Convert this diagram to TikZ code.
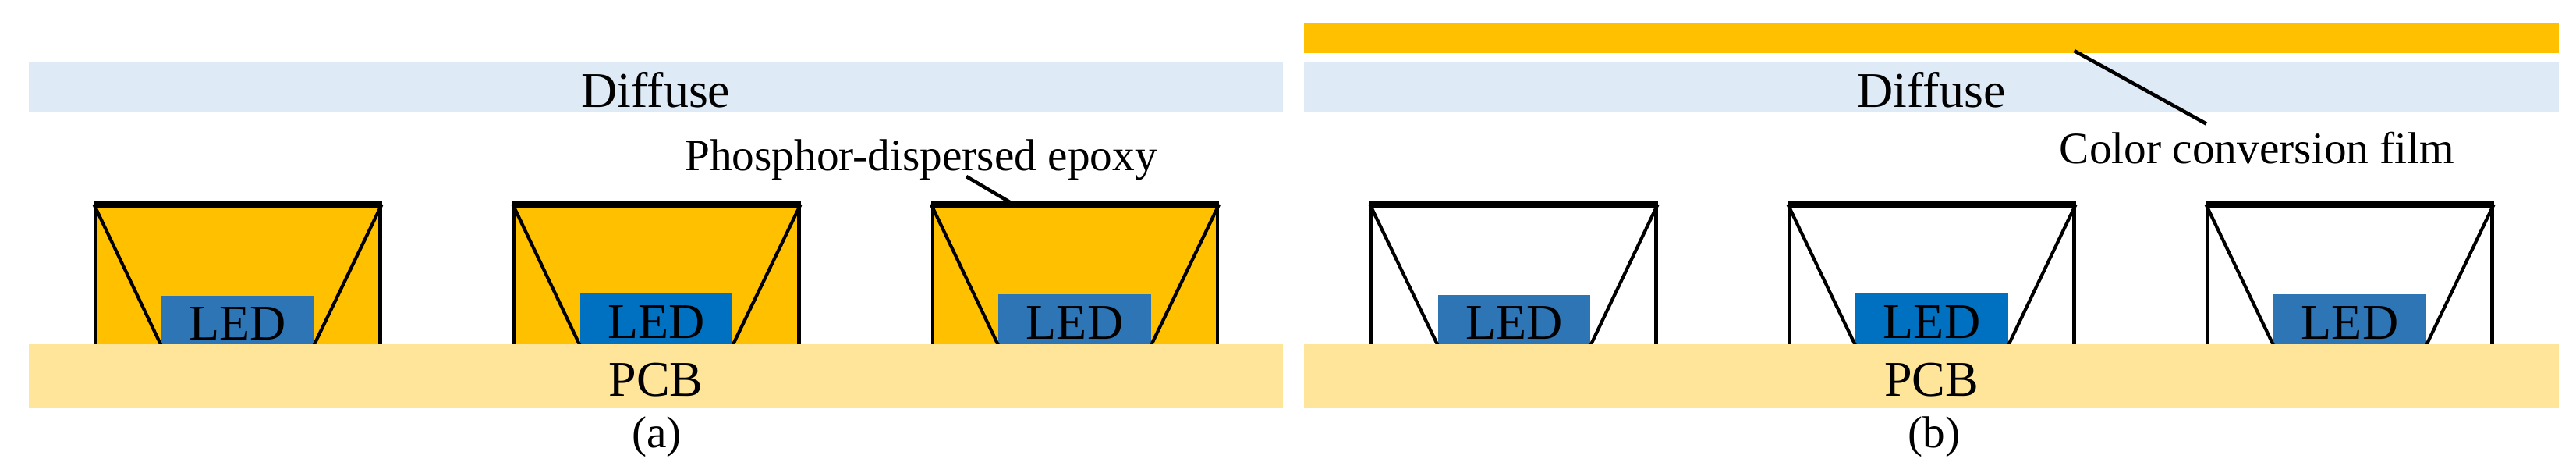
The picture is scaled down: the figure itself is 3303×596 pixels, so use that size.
\documentclass[tikz,border=0pt]{standalone}
\usepackage{fontspec}
\setmainfont{Liberation Serif}
\usepackage{tikz}
\definecolor{phosphor}{HTML}{FFC000}
\definecolor{diffuser}{HTML}{DEEBF7}
\definecolor{board}{HTML}{FEE599}
\definecolor{chip}{HTML}{2E75B6}
\definecolor{chipB}{HTML}{0070C0}
% Text sits a little below the middle of its box
\newcommand{\sunk}[1]{\raisebox{-0.25cm}[0pt][0pt]{#1}}
\tikzset{
    font=\fontsize{18.2}{20}\selectfont,
    %Define style for the layers
    layer/.style={
           rectangle,
           inner sep=0pt,
           minimum width=16.08cm},
    diffuse/.style={layer,fill=diffuser,minimum height=0.64cm},
    film/.style={layer,fill=phosphor,minimum height=0.375cm},
    pcb/.style={layer,fill=board,minimum height=0.82cm},
    % Define style for the cups, their lower edge is hidden by the pcb
    cup/.style={rectangle,draw=black,inner sep=0pt,line width=1.3pt,minimum width=3.645cm,minimum height=1.86cm},
    cupfull/.style={cup,fill=phosphor},
    cupempty/.style={cup,fill=white},
    led/.style={rectangle,fill=chip,inner sep=0pt,minimum width=1.95cm},
    ledB/.style={led,fill=chipB},
    % Define line styles
    wall/.style={draw=black,line width=1.2pt},
    rim/.style={draw=black,line width=1.9pt},
    leader/.style={draw=black,line width=1.3pt},
    caption/.style={anchor=base,inner sep=0pt,font=\fontsize{16.3}{18}\selectfont}
}
\begin{document}
\begin{tikzpicture}[x=0.01cm,y=-0.01cm]
  \useasboundingbox (0,0) rectangle (3303,596);
  % panel (a)
  \node[diffuse] (diffA) at (841,112) {\sunk{Diffuse}};
  \node[cupfull] (cup1) at (305,357) {};
  \node[cupfull] (cup2) at (842,357) {};
  \node[cupfull] (cup3) at (1378.5,357) {};
  \node[led,minimum height=0.62cm] (led1) at (304.5,410) {\sunk{LED}};
  \node[ledB,minimum height=0.66cm] (led2) at (841.5,408) {\sunk{LED}};
  \node[led,minimum height=0.64cm] (led3) at (1378,409) {\sunk{LED}};
  \path[wall]
    (cup1.north west) edge (led1.south west)
    (cup1.north east) edge (led1.south east)
    (cup2.north west) edge (led2.south west)
    (cup2.north east) edge (led2.south east)
    (cup3.north west) edge (led3.south west)
    (cup3.north east) edge (led3.south east);
  \path[rim]
    (cup1.north west) edge (cup1.north east)
    (cup2.north west) edge (cup2.north east)
    (cup3.north west) edge (cup3.north east);
  \node[pcb] (pcbA) at (841,482) {\sunk{PCB}};
  \node[caption] (capA) at (842,573) {(a)};
  \node[caption] (epoxy) at (1181,218) {Phosphor-dispersed epoxy};
  \coordinate (epoxyEnd) at (1239,226);
  \coordinate (epoxyTip) at (1300,262);
  \draw[leader] (epoxyEnd) -- (epoxyTip);
  % panel (b)
  \node[film] (filmB) at (2476.5,49) {};
  \node[diffuse] (diffB) at (2476.5,112) {\sunk{Diffuse}};
  \node[cupempty] (cup4) at (1941,357) {};
  \node[cupempty] (cup5) at (2477,357) {};
  \node[cupempty] (cup6) at (3013,357) {};
  \node[led,minimum height=0.63cm] (led4) at (1941.5,409.5) {\sunk{LED}};
  \node[ledB,minimum height=0.665cm] (led5) at (2477,408) {\sunk{LED}};
  \node[led,minimum height=0.64cm] (led6) at (3013,409) {\sunk{LED}};
  \path[wall]
    (cup4.north west) edge (led4.south west)
    (cup4.north east) edge (led4.south east)
    (cup5.north west) edge (led5.south west)
    (cup5.north east) edge (led5.south east)
    (cup6.north west) edge (led6.south west)
    (cup6.north east) edge (led6.south east);
  \path[rim]
    (cup4.north west) edge (cup4.north east)
    (cup5.north west) edge (cup5.north east)
    (cup6.north west) edge (cup6.north east);
  \node[pcb] (pcbB) at (2476.5,482) {\sunk{PCB}};
  \node[caption] (capB) at (2480,573) {(b)};
  \node[caption] (colorfilm) at (2894,209) {Color conversion film};
  \coordinate (filmEnd) at (2829,158.6);
  \coordinate (filmTip) at (2659.5,65);
  \draw[leader] (filmEnd) -- (filmTip);
\end{tikzpicture}
\end{document}
